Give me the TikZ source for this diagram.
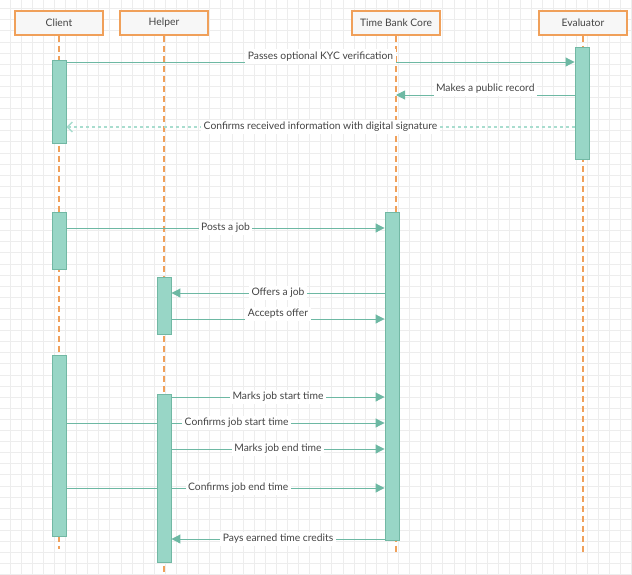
\documentclass[tikz,border=0pt]{standalone}
\usepackage{fontspec}
\setmainfont{Lato}
\usetikzlibrary{positioning, arrows.meta}

\definecolor{lifeorange}{HTML}{F0A05A}
\definecolor{boxgray}{HTML}{F7F7F7}
\definecolor{actfill}{HTML}{98D6C6}
\definecolor{actline}{HTML}{72B8A4}
\definecolor{msgteal}{HTML}{6DB8A3}
\definecolor{replyteal}{HTML}{A9DDCF}
\definecolor{txtgray}{HTML}{444444}
\definecolor{gridgray}{HTML}{EDEDED}

\pgfdeclarelayer{bg}
\pgfsetlayers{bg,main}

\begin{document}
\begin{tikzpicture}[
        x=1pt, y=-1pt,
        actor/.style={rectangle, draw=lifeorange, fill=boxgray, line width=1.3pt, minimum width=88pt, minimum height=24pt, inner sep=0pt, text=txtgray, font=\fontsize{10.3}{12}\selectfont},
        act/.style={rectangle, draw=actline, fill=actfill, line width=0.9pt, minimum width=14pt, inner sep=0pt, anchor=north},
        life/.style={draw=lifeorange, line width=1.1pt, dash pattern=on 6pt off 4pt},
        msg/.style={draw=msgteal, line width=1pt, -{Triangle[length=9pt, width=9pt]}},
        reply/.style={draw=replyteal, line width=1.3pt, dash pattern=on 3pt off 3pt, -{Straight Barb[length=5pt, width=10pt]}},
        lbl/.style={fill=white, inner sep=2.5pt, text=txtgray, font=\fontsize{10.3}{12}\selectfont},
    ]
        \useasboundingbox (0,0) rectangle (632,574);

        % Participants
        \node[actor] (client) at (59,23) {Client};
        \node[actor] (helper) at (164,23) {Helper};
        \node[actor] (core) at (396,23) {Time Bank Core};
        \node[actor] (eval) at (583,23) {Evaluator};

        % Activation bars
        \node[act, minimum height=83pt] (cA1) at (59,60) {};
        \node[act, minimum height=112pt] (eA) at (582,47) {};
        \node[act, minimum height=57pt] (cA2) at (59,212) {};
        \node[act, minimum height=328pt] (tA) at (392,212) {};
        \node[act, minimum height=57pt] (hA1) at (164,277) {};
        \node[act, minimum height=181pt] (cA3) at (59,355) {};
        \node[act, minimum height=168pt] (hA2) at (164,394) {};

        \begin{pgfonlayer}{bg}
            % Grid
            \foreach \i in {0,...,56}
                \draw[gridgray, line width=0.6pt] (9.8+\i*11.1,0) -- (9.8+\i*11.1,574);
            \foreach \j in {0,...,51}
                \draw[gridgray, line width=0.6pt] (0,8.5+\j*11.1) -- (632,8.5+\j*11.1);

            % Lifelines
            \draw[life] (client.south) -- (client.south|-0,549);
            \draw[life] (helper.south) -- (helper.south|-0,572);
            \draw[life] (core.south) -- (core.south|-0,555);
            \draw[life] (eval.south) -- (eval.south|-0,555);

            % Registration
            \draw[msg] (cA1.east|-0,62) -- node[lbl, yshift=5.5pt] {Passes optional KYC verification} (eA.west|-0,62);
            \draw[msg] (eA.west|-0,95) -- node[lbl, yshift=6pt] {Makes a public record} (core.south|-0,95);
            \draw[reply] (eA.west|-0,127) -- node[lbl] {Confirms received information with digital signature} (cA1.east|-0,127);

            % Job offer
            \draw[msg] (cA2.east|-0,228) -- node[lbl] {Posts a job} (tA.west|-0,228);
            \draw[msg] (tA.west|-0,293) -- node[lbl] {Offers a job} (hA1.east|-0,293);
            \draw[msg] (hA1.east|-0,319) -- node[lbl, yshift=5pt] {Accepts offer} (tA.west|-0,319);

            % Job execution
            \draw[msg] (hA2.east|-0,397) -- node[lbl] {Marks job start time} (tA.west|-0,397);
            \draw[msg] (cA3.east|-0,423) -- node[lbl, pos=0.535] {Confirms job start time} (tA.west|-0,423);
            \draw[msg] (hA2.east|-0,449) -- node[lbl] {Marks job end time} (tA.west|-0,449);
            \draw[msg] (cA3.east|-0,488) -- node[lbl, pos=0.54] {Confirms job end time} (tA.west|-0,488);
            \draw[msg] (tA.west|-0,539) -- node[lbl] {Pays earned time credits} (hA2.east|-0,539);
        \end{pgfonlayer}
    \end{tikzpicture}
\end{document}
